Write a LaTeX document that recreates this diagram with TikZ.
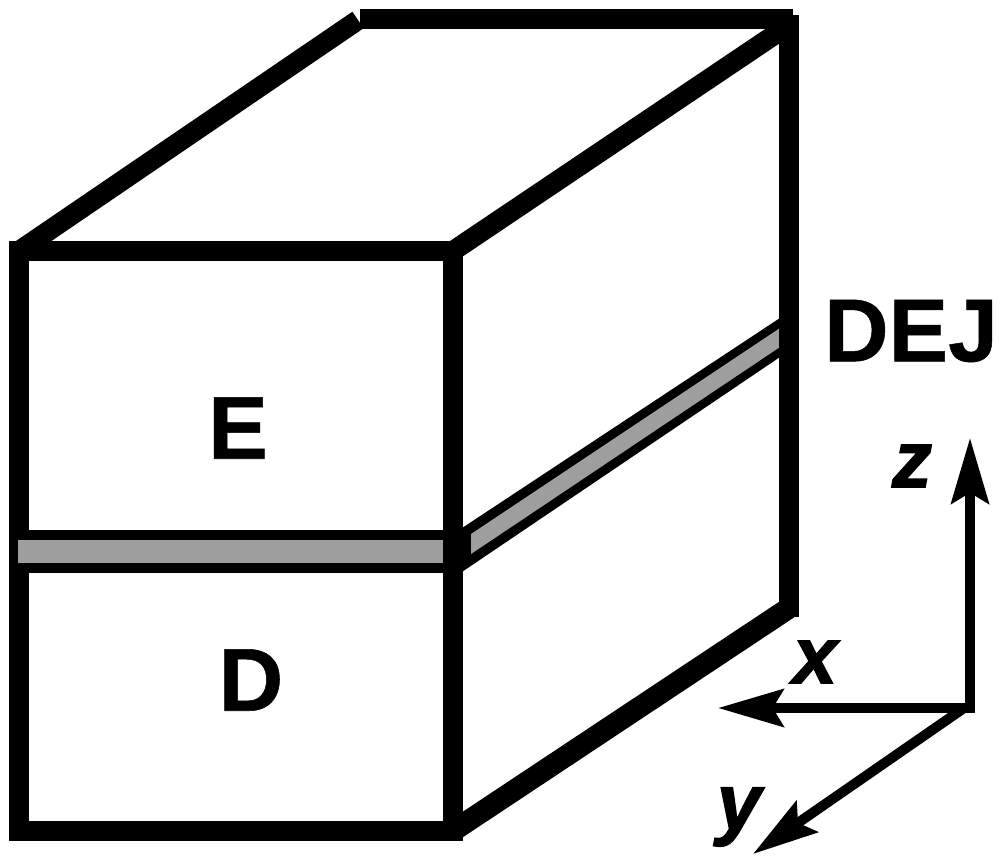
\documentclass[tikz,border=0pt]{standalone}
\usepackage{fontspec}
\setmainfont{Liberation Sans}[BoldFeatures={FakeBold=0.6},BoldItalicFeatures={FakeBold=1.6}]
\usetikzlibrary{arrows.meta}

\begin{document}
\begin{tikzpicture}[
    x=0.75pt,y=-0.75pt,
    edge/.style={line width=15pt},
    diag/.style={line width=16pt},
    bandline/.style={fill=black},
    bandfill/.style={fill=black!38},
    lbl/.style={font=\fontsize{67}{67}\selectfont\bfseries,inner sep=0pt},
    axlbl/.style={font=\fontsize{60}{60}\selectfont\bfseries\itshape,inner sep=0pt},
    arr/.style={-{Stealth[length=49pt,width=28pt,inset=8pt]},line width=7.5pt},
]
\useasboundingbox (0,0) rectangle (1000,857);

% corners of the block
\coordinate (ftl) at (19,251);
\coordinate (ftr) at (453,251);
\coordinate (fbl) at (19,831);
\coordinate (fbr) at (453,831);
\coordinate (btr) at (789,25);
\coordinate (bbr) at (789,608);

% front face
\draw[edge] (9,251) -- (463,251);
\draw[edge] (9,831) -- (463,831);
\draw[edge] (ftl |- 0,241) -- (fbl |- 0,841);
\draw[edge] (ftr |- 0,241) -- (fbr |- 0,841);

% band, horizontal part then side part
\fill[bandline] (19,530) rectangle (453,573);
\fill[bandline] (453,534) -- (783,316) -- (783,355) -- (453,578) -- cycle;
\fill[bandfill] (18,540) rectangle (443,563);
\fill[bandfill] (471,534) -- (783,326) -- (783,345) -- (471,554) -- cycle;

% receding edges
\draw[edge] (ftl) -- (358,20);
\draw[edge] (360,19) -- (793,19);
\draw[edge] (ftr) -- (btr);
\draw[diag] (fbr) -- (bbr);
\draw[edge] (789,15) -- (789,617);

\node[lbl] (enamel) at (238,428) {E};
\node[lbl] (dentin) at (251,680) {D};
\node[lbl] (dej) at (911,331) {DEJ};

% axes
\coordinate (orig) at (970,708);
\coordinate (zend) at (970,438);
\coordinate (xend) at (718,708);
\coordinate (yend) at (753,854);
\draw[arr] (970,713) -- (zend);
\draw[arr] (orig) -- (xend);
\draw[arr] (964,708) -- (yend);
\node[axlbl] (zlab) at (912,466) {z};
\node[axlbl] (xlab) at (815,662) {x};
\node[axlbl] (ylab) at (739,817) {y};
\end{tikzpicture}
\end{document}
